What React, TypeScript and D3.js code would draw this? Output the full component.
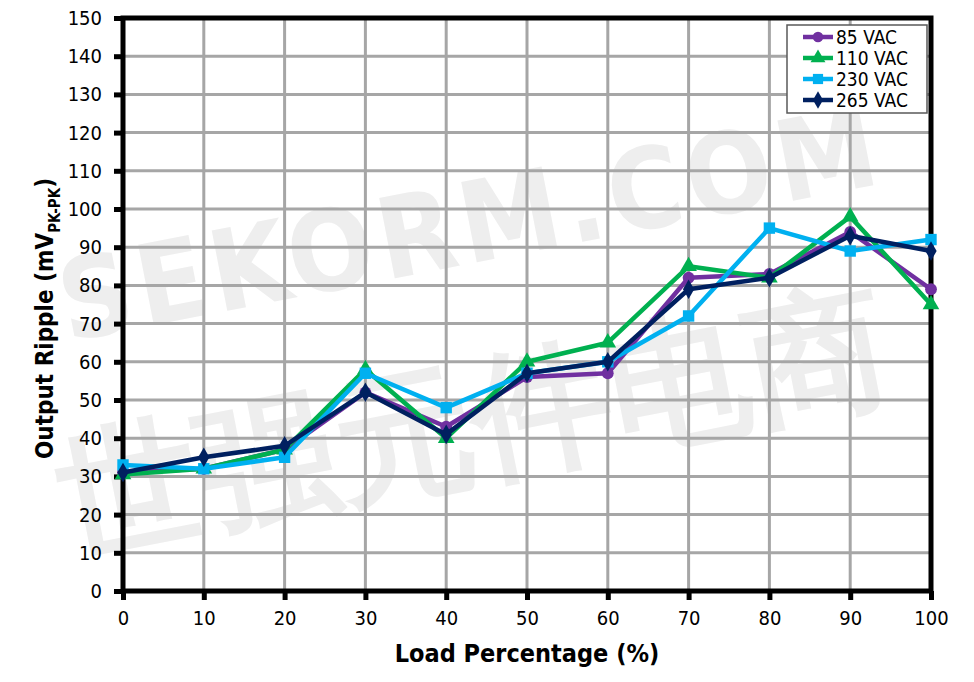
import React, { useEffect, useRef } from 'react';
import * as d3 from 'd3';

// load percentage (x) and ripple per input voltage (mV pk-pk)
const loads = [0, 10, 20, 30, 40, 50, 60, 70, 80, 90, 100];
const vac85 = [31, 32, 37, 52, 43, 56, 57, 82, 83, 94, 79];
const vac110 = [30.5, 32, 37, 58, 40, 60, 65, 85, 82, 98, 75];
const vac230 = [33, 32, 35, 57, 48, 57, 60, 72, 95, 89, 92];
const vac265 = [31, 35, 38, 52, 41, 57, 60, 79, 82, 93, 89];
const seriesNames = ['85 VAC', '110 VAC', '230 VAC', '265 VAC'];
const yTicks = d3.range(0, 151, 10);
const xTicks = d3.range(0, 101, 10);

const colors = ['#7030A0', '#00B050', '#00B0F0', '#002060'];
const symbols = [d3.symbolCircle, d3.symbolTriangle, d3.symbolSquare, d3.symbolDiamond];
const symSizes = [110, 120, 130, 110];

function App() {
    const ref = useRef<SVGSVGElement>(null);

    useEffect(() => {
        document.body.style.margin = '0';
        const svg = d3.select(ref.current);
        svg.selectAll('*').remove();

        const margin = { top: 18, right: 43, bottom: 91, left: 123 };
        const width = 974 - margin.left - margin.right,
            height = 682 - margin.top - margin.bottom;
        const font = '"DejaVu Sans Condensed", "DejaVu Sans", sans-serif';

        const x = d3.scaleLinear().domain([0, 100]).range([0, width]);
        const y = d3.scaleLinear().domain([0, 150]).range([height, 0]);

        svg.append('rect').attr('width', 974).attr('height', 682).attr('fill', '#fff');

        // faint watermark
        const wm = svg.append('g').attr('fill', '#eeeeee').attr('font-family', font).attr('font-weight', 'bold');
        wm.append('text')
            .attr('transform', 'translate(478,262) rotate(-11)')
            .attr('text-anchor', 'middle')
            .attr('font-size', 112)
            .attr('letter-spacing', 6)
            .text('SEKORM.COM');
        wm.append('text')
            .attr('transform', 'translate(482,470) rotate(-11)')
            .attr('text-anchor', 'middle')
            .attr('font-size', 140)
            .text('世强元件电商');

        const g = svg.append('g').attr('transform', `translate(${margin.left},${margin.top})`);

        // grid
        g.append('g').selectAll('line').data(yTicks.slice(1, -1)).enter().append('line')
            .attr('x1', 0).attr('x2', width)
            .attr('y1', d => y(d)).attr('y2', d => y(d))
            .attr('stroke', '#a6a6a6').attr('stroke-width', 3);
        g.append('g').selectAll('line').data(xTicks.slice(1, -1)).enter().append('line')
            .attr('y1', 0).attr('y2', height)
            .attr('x1', d => x(d)).attr('x2', d => x(d))
            .attr('stroke', '#a6a6a6').attr('stroke-width', 3);

        // frame
        g.append('rect').attr('width', width).attr('height', height)
            .attr('fill', 'none').attr('stroke', '#000').attr('stroke-width', 5);

        // axes
        const yAxis = g.append('g').call(d3.axisLeft(y).tickValues(yTicks).tickSize(9).tickPadding(12));
        const xAxis = g.append('g').attr('transform', `translate(0,${height})`)
            .call(d3.axisBottom(x).tickValues(xTicks).tickSize(9).tickPadding(11));
        [yAxis, xAxis].forEach(a => {
            a.select('.domain').remove();
            a.selectAll('line').attr('stroke', '#000').attr('stroke-width', 5);
            a.selectAll('text').attr('font-family', font).attr('font-size', 20).attr('fill', '#000');
        });

        // series
        const all = [vac85, vac110, vac230, vac265];
        const line = d3.line<number>().x((d, i) => x(loads[i])).y(d => y(d));
        all.forEach((vals, s) => {
            g.append('path').datum(vals)
                .attr('d', line)
                .attr('fill', 'none')
                .attr('stroke', colors[s])
                .attr('stroke-width', 4.5)
                .attr('stroke-linejoin', 'round');
            g.append('g').selectAll('path').data(vals).enter().append('path')
                .attr('d', d3.symbol().type(symbols[s]).size(symSizes[s]))
                .attr('transform', (d, i) => `translate(${x(loads[i])},${y(d)})`)
                .attr('fill', colors[s]);
        });

        // legend
        const lg = svg.append('g').attr('transform', 'translate(787,25)');
        lg.append('rect').attr('width', 140).attr('height', 88)
            .attr('fill', '#fff').attr('stroke', '#595959').attr('stroke-width', 1.5);
        seriesNames.forEach((name, s) => {
            const row = lg.append('g').attr('transform', `translate(0,${12 + s * 21})`);
            row.append('line').attr('x1', 16).attr('x2', 46)
                .attr('stroke', colors[s]).attr('stroke-width', 4.5);
            row.append('path')
                .attr('d', d3.symbol().type(symbols[s]).size(symSizes[s] * 0.8))
                .attr('transform', 'translate(31,0)')
                .attr('fill', colors[s]);
            row.append('text').attr('x', 49).attr('dy', '0.36em')
                .attr('font-family', font).attr('font-size', 19)
                .text(name);
        });

        // axis titles
        svg.append('text')
            .attr('x', margin.left + width / 2).attr('y', 662)
            .attr('text-anchor', 'middle')
            .attr('font-family', font).attr('font-size', 25).attr('font-weight', 'bold')
            .text('Load Percentage (%)');

        const yt = svg.append('text')
            .attr('transform', `translate(53,${margin.top + height / 2 + 14}) rotate(-90)`)
            .attr('text-anchor', 'middle')
            .attr('font-family', font).attr('font-size', 24).attr('font-weight', 'bold');
        yt.append('tspan').text('Output Ripple (mV');
        yt.append('tspan').attr('font-size', 15).attr('dy', 7).text('PK-PK');
        yt.append('tspan').attr('dy', -7).text(')');
    }, []);

    return <svg ref={ref} width={974} height={682} style={{ display: 'block' }}></svg>;
}

export default App;
